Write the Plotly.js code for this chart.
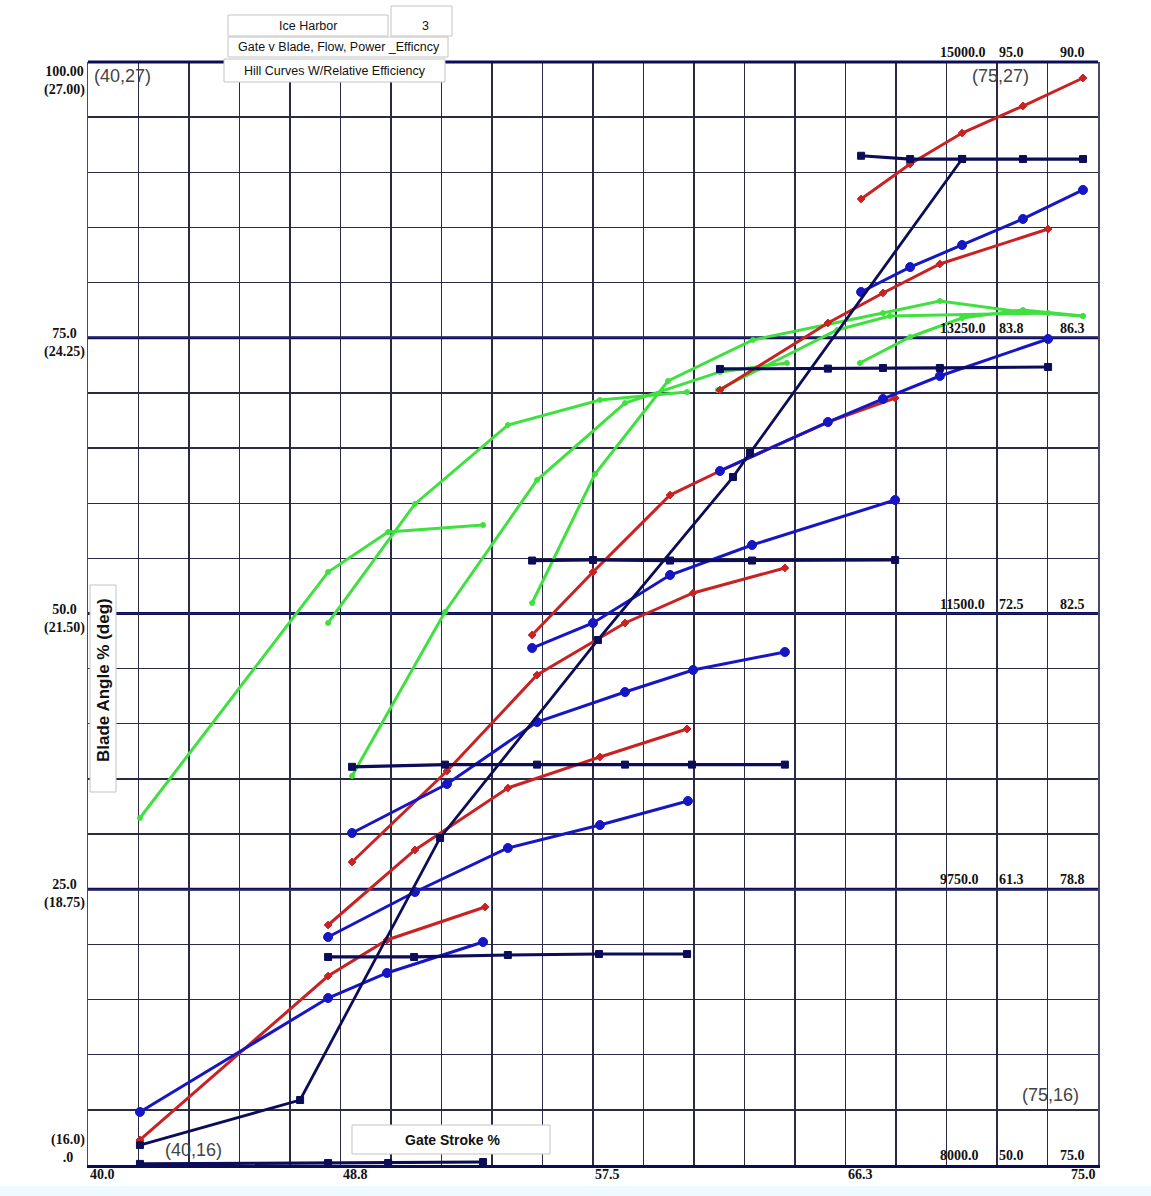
<!DOCTYPE html>
<html><head><meta charset="utf-8">
<script src="https://cdn.plot.ly/plotly-3.0.1.min.js"></script>
<style>html,body{margin:0;padding:0;background:#fff}#chart{width:1151px;height:1196px}</style>
</head><body><div id="chart"></div>
<script>
// ---------- DATA (gate stroke %, blade angle %) ----------
// Navy: constant-flow / blade curves
const navy1X = [41.80, 48.32, 50.40, 53.69];
const navy1Y = [0.1, 0.18, 0.18, 0.27];
const navy2X = [48.32, 51.30, 54.55, 57.71, 60.76];
const navy2Y = [18.86, 18.86, 19.04, 19.13, 19.13];
const navy3X = [49.15, 52.37, 55.56, 58.61, 60.93, 64.15];
const navy3Y = [36.1, 36.3, 36.3, 36.3, 36.3, 36.3];
const navy4X = [55.39, 57.50, 60.17, 63.01, 67.97];
const navy4Y = [54.8, 54.85, 54.8, 54.8, 54.85];
const navy5X = [61.90, 65.64, 67.55, 69.52, 73.27];
const navy5Y = [72.17, 72.2, 72.26, 72.26, 72.35];
const navy6X = [66.79, 68.49, 70.29, 72.40, 74.48];
const navy6Y = [91.5, 91.2, 91.2, 91.2, 91.2];
const navy7X = [41.80, 47.35, 52.20, 57.67, 62.35, 62.94, 70.29];
const navy7Y = [1.81, 5.89, 29.65, 47.60, 62.37, 64.55, 91.21];
// Blue
const blue1X = [41.80, 48.32, 50.36, 53.69];
const blue1Y = [4.81, 15.14, 17.41, 20.22];
const blue2X = [48.32, 51.33, 54.55, 57.74, 60.79];
const blue2Y = [20.67, 24.75, 28.74, 30.82, 33.0];
const blue3X = [49.15, 52.44, 55.56, 58.61, 60.97, 64.15];
const blue3Y = [30.10, 34.54, 40.16, 42.88, 44.88, 46.51];
const blue4X = [55.39, 57.50, 60.17, 63.01, 67.97];
const blue4Y = [46.87, 49.14, 53.49, 56.21, 60.29];
const blue5X = [61.90, 65.64, 67.55, 69.52, 73.27];
const blue5Y = [62.92, 67.36, 69.45, 71.53, 74.89];
const blue6X = [66.79, 68.49, 70.29, 72.40, 74.48];
const blue6Y = [79.15, 81.41, 83.41, 85.77, 88.40];
// Red
const red1X = [41.80, 48.32, 50.36, 53.76];
const red1Y = [2.27, 17.13, 20.40, 23.39];
const red2X = [48.32, 51.33, 54.55, 57.74, 60.76];
const red2Y = [21.76, 28.56, 34.18, 36.99, 39.53];
const red3X = [49.15, 52.44, 55.56, 58.61, 60.97, 64.15];
const red3Y = [27.47, 35.72, 44.42, 49.14, 51.86, 54.13];
const red4X = [55.39, 57.50, 60.17, 61.90, 65.64, 67.97];
const red4Y = [48.05, 53.76, 60.74, 62.92, 67.36, 69.54];
const red5X = [61.90, 65.64, 67.55, 69.52, 73.27];
const red5Y = [70.26, 76.34, 79.06, 81.69, 84.86];
const red6X = [66.79, 68.49, 70.29, 72.40, 74.48];
const red6Y = [87.58, 90.75, 93.56, 96.01, 98.55];
// Green
const green1X = [41.80, 48.32, 50.40, 53.69];
const green1Y = [31.46, 53.76, 57.39, 58.02];
const green2X = [48.32, 51.33, 54.55, 57.74, 60.76];
const green2Y = [49.14, 59.93, 67.09, 69.36, 70.08];
const green3X = [49.15, 52.37, 55.56, 58.61, 61.90, 64.22];
const green3Y = [35.27, 50.14, 62.10, 69.08, 71.9, 72.71];
const green4X = [55.39, 57.57, 60.10, 63.04, 67.55, 69.52, 72.40, 74.48];
const green4Y = [50.95, 62.65, 71.08, 74.80, 77.24, 78.33, 77.33, 76.97];
const green5X = [61.83, 65.96, 67.79, 73.27];
const green5Y = [70.26, 75.70, 76.97, 77.24];
const green6X = [66.75, 68.49, 70.29, 72.40, 74.48];
const green6Y = [72.71, 75.07, 76.79, 77.52, 76.97];

// Tick labels
const xTickVals = [40, 48.75, 57.5, 66.25, 75];
const xTickText = ['40.0', '48.8', '57.5', '66.3', '75.0'];
const yTickVals = [100, 75, 50, 25, 0];
const yTickTop = ['100.00', '75.0', '50.0', '25.0', '(16.0)'];
const yTickBottom = ['(27.00)', '(24.25)', '(21.50)', '(18.75)', '.0'];
// Right-side table: flow, power, efficiency
const flowLabels = ['15000.0', '13250.0', '11500.0', '9750.0', '8000.0'];
const powerLabels = ['95.0', '83.8', '72.5', '61.3', '50.0'];
const effLabels = ['90.0', '86.3', '82.5', '78.8', '75.0'];

// ---------- STYLE ----------
const NAVY = '#0c0c58', BLUE = '#1616c4', RED = '#c82222', GREEN = '#40e040';
const L = 88, R = 1098, T = 62, B = 1165;
const PX = p => (p - L) / (R - L);
const PY = p => (B - p) / (B - T);

function tr(x, y, color, sym, size, lw) {
  return {x: x, y: y, type: 'scatter', mode: 'lines+markers', cliponaxis: false,
    line: {color: color, width: lw || 3},
    marker: {color: color, symbol: sym, size: size, line: {color: color, width: 1}},
    hoverinfo: 'skip', showlegend: false};
}
const traces = [
  tr(green1X, green1Y, GREEN, 'circle', 5), tr(green2X, green2Y, GREEN, 'circle', 5),
  tr(green3X, green3Y, GREEN, 'circle', 5), tr(green4X, green4Y, GREEN, 'circle', 5),
  tr(green5X, green5Y, GREEN, 'circle', 5), tr(green6X, green6Y, GREEN, 'circle', 5),
  tr(red1X, red1Y, RED, 'diamond', 6), tr(red2X, red2Y, RED, 'diamond', 6),
  tr(red3X, red3Y, RED, 'diamond', 6), tr(red4X, red4Y, RED, 'diamond', 6),
  tr(red5X, red5Y, RED, 'diamond', 6), tr(red6X, red6Y, RED, 'diamond', 6),
  tr(blue1X, blue1Y, BLUE, 'circle', 9), tr(blue2X, blue2Y, BLUE, 'circle', 9),
  tr(blue3X, blue3Y, BLUE, 'circle', 9), tr(blue4X, blue4Y, BLUE, 'circle', 9),
  tr(blue5X, blue5Y, BLUE, 'circle', 9), tr(blue6X, blue6Y, BLUE, 'circle', 9),
  tr(navy1X, navy1Y, NAVY, 'square', 7, 3.2), tr(navy2X, navy2Y, NAVY, 'square', 7, 3.2),
  tr(navy3X, navy3Y, NAVY, 'square', 7, 3.2), tr(navy4X, navy4Y, NAVY, 'square', 7, 3.2),
  tr(navy5X, navy5Y, NAVY, 'square', 7, 3.2), tr(navy6X, navy6Y, NAVY, 'square', 7, 3.2),
  tr(navy7X, navy7Y, NAVY, 'square', 7, 2.8)
];

const SERIF = {family: 'Liberation Serif, Times New Roman, serif', size: 14, color: '#111'};
const SANS = 'Liberation Sans, Arial, sans-serif';
const annotations = [];
xTickVals.forEach((v, i) => annotations.push({
  x: v, xref: 'x', y: 0, yref: 'paper', yanchor: 'top', xanchor: i === xTickVals.length - 1 ? 'right' : 'left',
  text: '<b>' + xTickText[i] + '</b>', showarrow: false, font: SERIF, yshift: 0
}));
yTickVals.forEach((v, i) => {
  let anchor = 'middle', shift = -5;
  if (i === 0) { anchor = 'top'; shift = 0; }
  if (i === yTickVals.length - 1) { anchor = 'bottom'; shift = -2; }
  annotations.push({x: 0, xref: 'paper', xanchor: 'right', xshift: -1, y: v, yref: 'y', yanchor: anchor, yshift: shift,
    text: '<b>' + yTickTop[i] + '<br>' + yTickBottom[i] + '</b>', align: 'center', showarrow: false, font: SERIF});
});
const colPx = [938, 997, 1058];
yTickVals.forEach((v, i) => {
  [flowLabels[i], powerLabels[i], effLabels[i]].forEach((t, j) => annotations.push({
    x: PX(colPx[j]), xref: 'paper', xanchor: 'left', y: v, yref: 'y', yanchor: 'bottom', yshift: 0,
    text: '<b>' + t + '</b>', showarrow: false, font: SERIF
  }));
});
const corner = [['(40,27)', 92, 76], ['(75,27)', 970, 76], ['(40,16)', 163, 1150], ['(75,16)', 1020, 1095]];
corner.forEach(c => annotations.push({x: PX(c[1]), xref: 'paper', xanchor: 'left', y: PY(c[2]), yref: 'paper', yanchor: 'middle',
  text: c[0], showarrow: false, font: {family: SANS, size: 18, color: '#444'}}));
const boxTexts = [['Ice Harbor', 308, 26, 12.5], ['3', 425, 26, 12.5], ['Gate v Blade, Flow, Power _Efficncy', 339, 47, 12.5],
  ['Hill Curves W/Relative Efficiency', 335, 71, 12.5]];
boxTexts.forEach(b => annotations.push({x: PX(b[1]), xref: 'paper', xanchor: 'center', y: PY(b[2]), yref: 'paper', yanchor: 'middle',
  text: b[0], showarrow: false, font: {family: SANS, size: b[3], color: '#111'}}));
annotations.push({x: PX(452), xref: 'paper', y: PY(1140), yref: 'paper', xanchor: 'center', yanchor: 'middle',
  text: '<b>Gate Stroke %</b>', showarrow: false, font: {family: SANS, size: 14, color: '#111'}});
annotations.push({x: PX(103), xref: 'paper', y: PY(680), yref: 'paper', xanchor: 'center', yanchor: 'middle', textangle: -90,
  text: '<b>Blade Angle % (deg)</b>', showarrow: false, font: {family: SANS, size: 17, color: '#111'}});

const shapes = [];
[25, 50, 75].forEach(v => shapes.push({type: 'line', xref: 'paper', x0: 0, x1: 1, yref: 'y', y0: v, y1: v,
  line: {color: NAVY, width: 3}, layer: 'below'}));
shapes.push({type: 'line', xref: 'paper', x0: 0, x1: 1, yref: 'paper', y0: 1, y1: 1, line: {color: NAVY, width: 3}, layer: 'above'});
function box(x0, y0, x1, y1, fill, col) {
  shapes.push({type: 'rect', xref: 'paper', yref: 'paper', x0: PX(x0), x1: PX(x1), y0: PY(y1), y1: PY(y0),
    fillcolor: fill, line: {color: col || '#c4c4c4', width: 1}, layer: 'above'});
}
box(228, 15, 388, 36, '#ffffff');
box(391, 6, 452, 36, '#ffffff');
box(228, 37, 448, 57, '#ffffff');
box(224, 59, 445, 82, '#ffffff');
box(352, 1125, 550, 1154, '#ffffff');
box(90, 585, 116, 792, '#ffffff');
shapes.push({type: 'rect', xref: 'paper', yref: 'paper', x0: PX(0), x1: PX(1151), y0: PY(1196), y1: PY(1186),
  fillcolor: '#eefaff', line: {width: 0}, layer: 'below'});

const layout = {
  width: 1151, height: 1196,
  margin: {l: 88, r: 53, t: 62, b: 31},
  paper_bgcolor: '#ffffff', plot_bgcolor: '#ffffff',
  xaxis: {range: [40, 75], tick0: 40, dtick: 1.75, showgrid: true, gridcolor: '#2a2a44', gridwidth: 1.4,
    showticklabels: false, ticks: '', zeroline: false, showline: true, linecolor: NAVY, linewidth: 3, fixedrange: true},
  yaxis: {range: [0, 100], tick0: 0, dtick: 5, showgrid: true, gridcolor: '#2a2a44', gridwidth: 1.4,
    showticklabels: false, ticks: '', zeroline: false, showline: true, linecolor: '#4a4a66', linewidth: 1.5, mirror: true, fixedrange: true},
  shapes: shapes, annotations: annotations
};
Plotly.newPlot('chart', traces, layout, {displayModeBar: false, staticPlot: true});
</script></body></html>
